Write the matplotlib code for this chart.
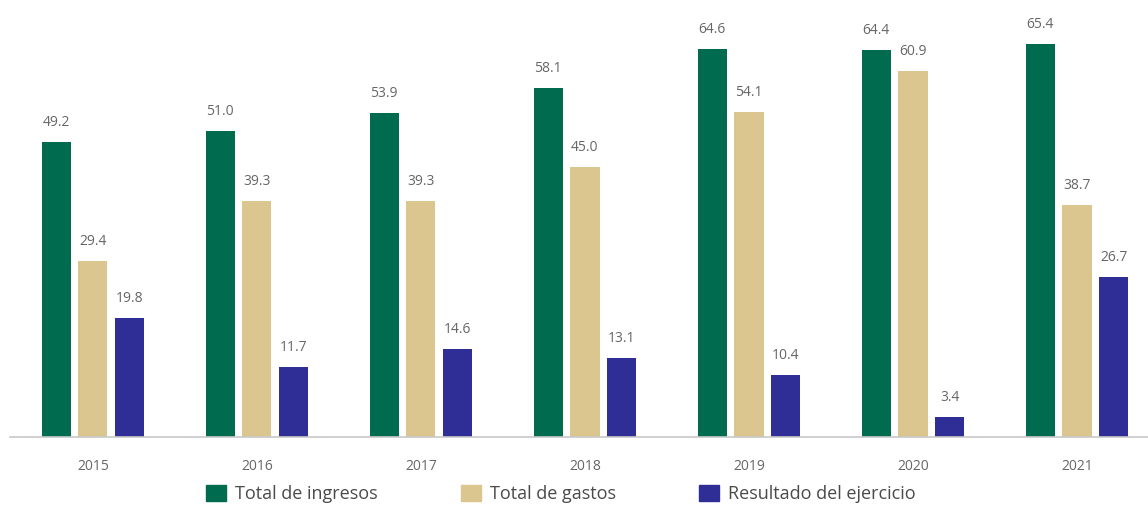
import numpy as np
import matplotlib.pyplot as plt
from matplotlib.patches import Patch

plt.rcParams['font.family'] = ['Open Sans', 'DejaVu Sans']

years = ["2015", "2016", "2017", "2018", "2019", "2020", "2021"]
ingresos = [49.2, 51.0, 53.9, 58.1, 64.6, 64.4, 65.4]
gastos = [29.4, 39.3, 39.3, 45.0, 54.1, 60.9, 38.7]
resultado = [19.8, 11.7, 14.6, 13.1, 10.4, 3.4, 26.7]

series = [
    ("Total de ingresos", ingresos, "#006b4f"),
    ("Total de gastos", gastos, "#dbc690"),
    ("Resultado del ejercicio", resultado, "#2f2e96"),
]

fig = plt.figure(figsize=(11.48, 5.12), dpi=100)
ax = fig.add_axes([10 / 1148, 75 / 512, 1138 / 1148, 437 / 512])

x = np.arange(len(years))
width = 0.177
offset = 0.224

for i, (name, vals, color) in enumerate(series):
    pos = x + (i - 1) * offset
    ax.bar(pos, vals, width=width, color=color, label=name)
    for px, v in zip(pos, vals):
        ax.text(px, v + 2.0, f"{v:.1f}", ha="center", va="bottom",
                fontsize=10, color="#666666")

ax.set_xlim(-0.506, len(years) - 1 + 0.433)
ax.set_ylim(0, 72.8)

for s in ["top", "right", "left"]:
    ax.spines[s].set_visible(False)
ax.spines["bottom"].set_color("#c8c8c8")
ax.spines["bottom"].set_linewidth(1.2)
ax.set_yticks([])
ax.set_xticks(x)
ax.set_xticklabels(years, fontsize=10, color="#666666")
ax.tick_params(axis="x", length=0, pad=16)

handles = [Patch(color=c) for _, _, c in series]
fig.legend(handles, [n for n, _, _ in series], loc="center",
           bbox_to_anchor=(561 / 1148, 1 - 494 / 512), ncol=3,
           frameon=False, fontsize=13, handlelength=1.1, handleheight=1.0,
           columnspacing=4.6, handletextpad=0.5, labelcolor="#4a4a4a")

fig.savefig("out.png", dpi=100)
